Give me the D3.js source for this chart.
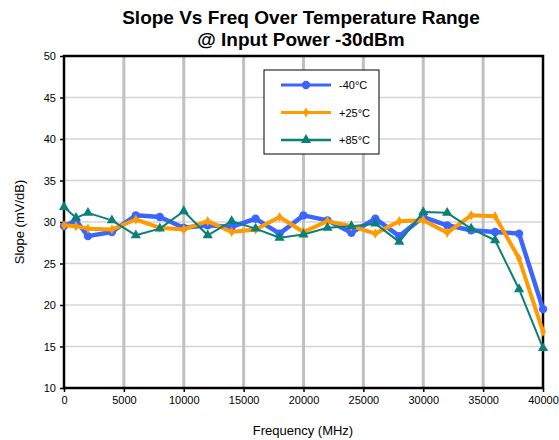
<!DOCTYPE html>
<html><head><meta charset="utf-8">
<script src="https://cdn.jsdelivr.net/npm/d3@7"></script>
<style>body{margin:0;background:#fff;}svg{font-family:"Liberation Sans",Arial,sans-serif;}</style>
</head><body>
<svg id="c" width="559" height="440"></svg>
<script>
const freqs = [0,1000,2000,4000,6000,8000,10000,12000,14000,16000,18000,20000,22000,24000,26000,28000,30000,32000,34000,36000,38000,40000];
const m40 = [29.5,30.2,28.3,28.8,30.8,30.6,29.3,29.6,29.4,30.4,28.6,30.8,30.2,28.7,30.4,28.3,30.6,29.6,29.0,28.8,28.6,19.5];
const p25 = [29.6,29.5,29.2,29.1,30.3,29.3,29.1,30.1,28.8,29.1,30.6,28.8,30.1,29.5,28.6,30.1,30.2,28.7,30.8,30.7,25.6,16.8];
const p85 = [31.8,30.5,31.1,30.2,28.4,29.2,31.3,28.4,30.1,29.2,28.1,28.5,29.3,29.5,29.8,27.6,31.2,31.1,29.2,27.8,21.9,14.8];
const seriesNames = ["-40°C","+25°C","+85°C"];
const xTicks = [0,5000,10000,15000,20000,25000,30000,35000,40000];
const yTicks = [10,15,20,25,30,35,40,45,50];

const svg = d3.select("#c");
const L=64,R=543,T=56,B=388;
const x = d3.scaleLinear().domain([0,40000]).range([L,R]);
const y = d3.scaleLinear().domain([10,50]).range([B,T]);

// title
svg.append("text").attr("x",301).attr("y",24).attr("text-anchor","middle").attr("font-size","19px").attr("font-weight","bold").text("Slope Vs Freq Over Temperature Range");
svg.append("text").attr("x",301).attr("y",46).attr("text-anchor","middle").attr("font-size","19px").attr("font-weight","bold").text("@ Input Power -30dBm");

// gridlines
svg.append("g").selectAll("line").data(yTicks.slice(1,-1)).join("line")
  .attr("x1",L).attr("x2",R).attr("y1",d=>y(d)).attr("y2",d=>y(d))
  .attr("stroke","#d4d4d4").attr("stroke-width",1.5);
svg.append("g").selectAll("line").data(xTicks.slice(1,-1)).join("line")
  .attr("y1",T).attr("y2",B).attr("x1",d=>x(d)).attr("x2",d=>x(d))
  .attr("stroke","#c0c0c0").attr("stroke-width",3);

// axes
const yAxis = d3.axisLeft(y).tickValues(yTicks).tickSize(4).tickPadding(4);
const gy = svg.append("g").attr("transform",`translate(${L},0)`).call(yAxis);
const xAxis = d3.axisBottom(x).tickValues(xTicks).tickSize(4).tickPadding(4).tickFormat(d3.format("d"));
const gx = svg.append("g").attr("transform",`translate(0,${B})`).call(xAxis);
[gx,gy].forEach(g=>{g.select(".domain").remove();g.selectAll("line").attr("stroke","#000").attr("stroke-width",1.5);g.selectAll("text").attr("font-size","11px").attr("fill","#000").attr("font-family","Liberation Sans, Arial, sans-serif");});

// frame
svg.append("rect").attr("x",L).attr("y",T).attr("width",R-L).attr("height",B-T).attr("fill","none").attr("stroke","#000").attr("stroke-width",2.5);

// axis titles
svg.append("text").attr("transform","translate(24,222) rotate(-90)").attr("text-anchor","middle").attr("font-size","13px").text("Slope (mV/dB)");
svg.append("text").attr("x",303).attr("y",435).attr("text-anchor","middle").attr("font-size","13px").text("Frequency (MHz)");

const colors = ["#3A66FF","#FF9B00","#0B8078"];
const widths = [4.5,4,2];
const data = [m40,p25,p85];
const line = d3.line().x(d=>x(d[0])).y(d=>y(d[1]));
const sym = [d3.symbolCircle,d3.symbolDiamond,d3.symbolTriangle];
const symSize = [55,30,45];

data.forEach((vals,i)=>{
  const pts = freqs.map((f,j)=>[f,vals[j]]);
  const g = svg.append("g");
  g.append("path").datum(pts).attr("d",line).attr("fill","none").attr("stroke",colors[i]).attr("stroke-width",widths[i]).attr("stroke-linejoin","round");
  g.selectAll("path.m").data(pts).join("path").attr("class","m")
    .attr("transform",d=>`translate(${x(d[0])},${y(d[1])})`)
    .attr("d",d3.symbol().type(sym[i]).size(symSize[i])).attr("fill",colors[i]);
});

// legend
const lg = svg.append("g");
lg.append("rect").attr("x",264).attr("y",70).attr("width",115).attr("height",84).attr("fill","#fff").attr("stroke","#000").attr("stroke-width",1);
seriesNames.forEach((n,i)=>{
  const yy = 85+i*27.5;
  lg.append("line").attr("x1",281).attr("x2",331).attr("y1",yy).attr("y2",yy).attr("stroke",colors[i]).attr("stroke-width",i==2?2.5:3);
  lg.append("path").attr("transform",`translate(306,${yy})`).attr("d",d3.symbol().type(sym[i]).size(symSize[i])).attr("fill",colors[i]);
  lg.append("text").attr("x",339).attr("y",yy+4).attr("font-size","11px").text(n);
});
</script>
</body></html>
